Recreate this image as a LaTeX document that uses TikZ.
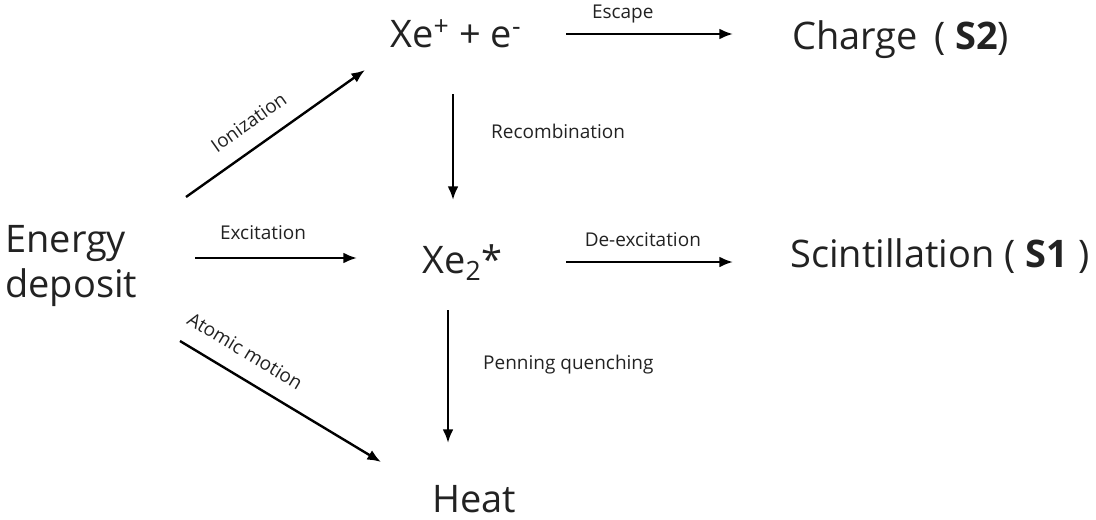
\documentclass[tikz,border=0pt]{standalone}
\usepackage{fontspec}
\setmainfont{Open Sans}
\usetikzlibrary{arrows.meta}
\usetikzlibrary{calc}
\definecolor{inkgray}{HTML}{222222}
\tikzset{
  species/.style = {align=left, inner sep=0pt, text=inkgray, anchor=base west,
    font=\fontsize{27}{32}\selectfont},% etats / produits
  proc/.style = {inner sep=0pt, text=inkgray,
    font=\fontsize{13.5}{16}\selectfont},% nom du processus
  flow/.style = {-{Latex[length=0.34cm, width=0.27cm]}, line width=1.7pt,
    black}% fleche
}

\begin{document}
\begin{tikzpicture}[x=0.025cm, y=-0.025cm]
      \useasboundingbox (0,0) rectangle (1096,519);
      \node [species] (dep)  at (5,297)   {Energy\\deposit};
      \node [species] (ion)  at (390,48)  {Xe\textsuperscript{+} + e\textsuperscript{-}};
      \node [species] (chg)  at (792,50)  {Charge\, ( \textbf{S2})};
      \node [species] (exc)  at (422,273) {Xe\textsubscript{2}*};
      \node [species] (sci)  at (790,267) {Scintillation ( \textbf{S1} )};
      \node [species] (heat) at (432,512) {Heat};

      \draw [flow] ($(dep.base west)+(181,-100)$) --
          node [proc, sloped, pos=.43, above=0.62cm, anchor=center] {Ionization}
          ($(ion.base west)+(-25,22)$);
      \draw [flow] ($(ion.base west)+(176,-14)$) --
          node [proc, pos=.34, yshift=0.5cm] {Escape}
          ($(chg.base west)+(-59,-16)$);
      \draw [flow] ($(ion.base west)+(63,46)$) --
          node [proc, pos=.35, anchor=west, xshift=0.925cm] {Recombination}
          ($(exc.base west)+(31,-73)$);
      \draw [flow] ($(dep.base west)+(190,-39)$) --
          node [proc, pos=.42, yshift=0.625cm] {Excitation}
          ($(exc.base west)+(-65,-15)$);
      \draw [flow] ($(exc.base west)+(144,-11)$) --
          node [proc, pos=.46, yshift=0.55cm] {De-excitation}
          ($(sci.base west)+(-57,-5)$);
      \draw [flow] ($(dep.base west)+(175,44)$) --
          node [proc, sloped, pos=.26, above=0.42cm] {Atomic motion}
          ($(heat.base west)+(-51,-50)$);
      \draw [flow] ($(exc.base west)+(26,37)$) --
          node [proc, pos=.41, anchor=west, xshift=0.85cm] {Penning quenching}
          ($(heat.base west)+(16,-69)$);
\end{tikzpicture}
\end{document}
